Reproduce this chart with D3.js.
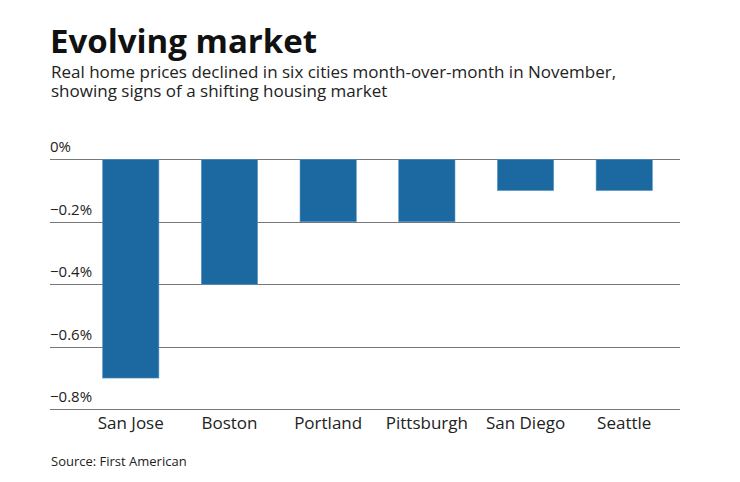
<!DOCTYPE html>
<html>
<head>
<meta charset="utf-8">
<script src="https://cdn.jsdelivr.net/npm/d3@7"></script>
<style>
  body { margin: 0; background: #fff; }
  text { font-family: "Open Sans", "Noto Sans", sans-serif; fill: #222; }
</style>
</head>
<body>
<script>
const width = 740;
const height = 482;

// data
const cities = ["San Jose", "Boston", "Portland", "Pittsburgh", "San Diego", "Seattle"];
const changes = [-0.7, -0.4, -0.2, -0.2, -0.1, -0.1];
const yTicks = [0, -0.2, -0.4, -0.6, -0.8];
const subtitleLines = [
    "Real home prices declined in six cities month-over-month in November,",
    "showing signs of a shifting housing market"
];

let svg = d3.select("body").append("svg").attr("width", width).attr("height", height);

// title + subtitle (one text block, two lines)
svg.append("text").attr("x", 50).attr("y", 53)
    .style("font-size", "33px").style("font-weight", "bold").style("fill", "#111")
    .text("Evolving market");
svg.append("text").attr("x", 51).attr("y", 78)
    .style("font-size", "17px")
    .selectAll("tspan")
    .data(subtitleLines)
    .enter()
    .append("tspan")
    .attr("x", 51)
    .attr("dy", (d, i) => i === 0 ? 0 : 19)
    .text(d => d);

// scales
let x = d3.scaleBand().domain(cities).range([75, 680]).paddingInner(0.43).paddingOuter(0.28);
let y = d3.scaleLinear().domain([-0.8, 0]).range([409.3, 159.3]);

// gridlines + tick labels
let grid = svg.append("g");
grid.selectAll("line")
    .data(yTicks)
    .enter()
    .append("line")
    .attr("x1", 50).attr("x2", 680)
    .attr("y1", d => Math.round(y(d)) + 0.5)
    .attr("y2", d => Math.round(y(d)) + 0.5)
    .attr("stroke", "#777")
    .attr("stroke-width", 1);

grid.selectAll("text")
    .data(yTicks)
    .enter()
    .append("text")
    .attr("x", 50)
    .attr("y", d => y(d) - 7)
    .style("font-size", "15px")
    .text(d => d3.format(".1f")(d).replace("0.0", "0") + "%");

// bars
svg.append("g").selectAll("rect")
    .data(changes)
    .enter()
    .append("rect")
    .attr("x", (d, i) => x(cities[i]))
    .attr("y", y(0))
    .attr("width", x.bandwidth())
    .attr("height", d => y(d) - y(0))
    .attr("fill", "#1b69a0")
    .attr("stroke", "#5a95c4")
    .attr("stroke-width", 0.6);

// category labels
svg.append("g").selectAll("text")
    .data(cities)
    .enter()
    .append("text")
    .attr("x", d => x(d) + x.bandwidth() / 2)
    .attr("y", 429)
    .attr("text-anchor", "middle")
    .style("font-size", "17px")
    .text(d => d);

// source
svg.append("text").attr("x", 51).attr("y", 466)
    .style("font-size", "13px")
    .text("Source: First American");
</script>
</body>
</html>
